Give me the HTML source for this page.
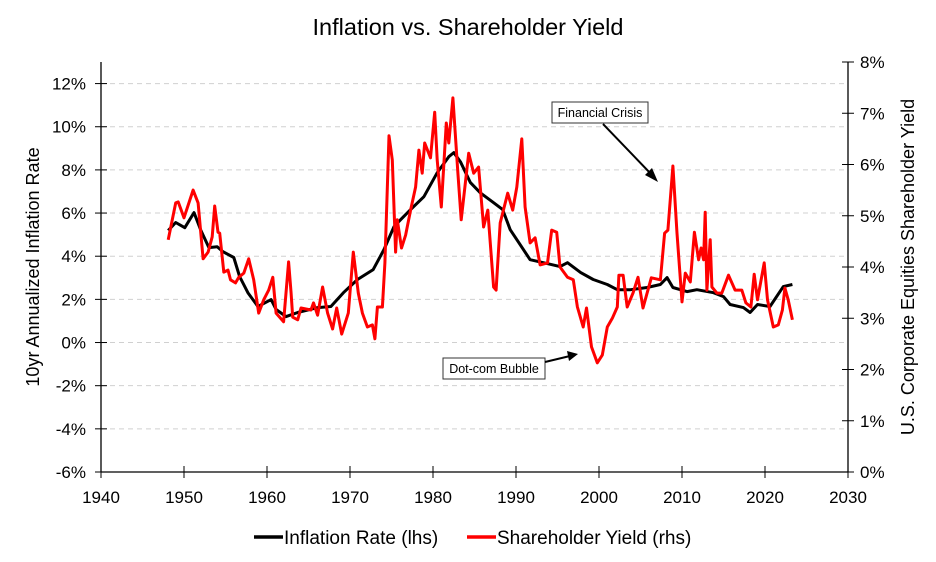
<!DOCTYPE html>
<html><head><meta charset="utf-8"><style>
body{margin:0;background:#fff;}
svg{display:block;font-family:"Liberation Sans Narrow","Liberation Sans",sans-serif;}
</style></head><body>
<svg id="chart" width="936" height="562" viewBox="0 0 936 562">
<text x="468" y="35" text-anchor="middle" font-size="23.5" font-family="Liberation Sans, sans-serif">Inflation vs. Shareholder Yield</text>
<g id="grid"></g>
<g id="axes"></g>
<g id="series"></g>
<text transform="translate(39,267) rotate(-90)" text-anchor="middle" font-size="18">10yr Annualized Inflation Rate</text>
<text transform="translate(914,267) rotate(-90)" text-anchor="middle" font-size="18">U.S. Corporate Equities Shareholder Yield</text>
<g>
<rect x="552" y="102" width="96" height="21" fill="#fff" stroke="#333" stroke-width="1"/>
<text x="600" y="117" text-anchor="middle" font-size="12.5" font-family="Liberation Sans, sans-serif">Financial Crisis</text>
<line x1="603" y1="124" x2="652" y2="175" stroke="#000" stroke-width="2"/>
<polygon points="658,182 645,175 652,168" fill="#000"/>
</g>
<g>
<rect x="443" y="358" width="102" height="21" fill="#fff" stroke="#333" stroke-width="1"/>
<text x="494" y="373" text-anchor="middle" font-size="12.5" font-family="Liberation Sans, sans-serif">Dot-com Bubble</text>
<line x1="545" y1="362" x2="570" y2="356" stroke="#000" stroke-width="2"/>
<polygon points="578,354 567,351 569,361" fill="#000"/>
</g>
<g>
<line x1="254" y1="537" x2="283" y2="537" stroke="#000" stroke-width="3.5"/>
<text x="284" y="544" font-size="19">Inflation Rate (lhs)</text>
<line x1="467" y1="537" x2="496" y2="537" stroke="#f00" stroke-width="3.5"/>
<text x="497" y="544" font-size="19">Shareholder Yield (rhs)</text>
</g>
</svg>
<script>
const xTicks=[1940,1950,1960,1970,1980,1990,2000,2010,2020,2030];
const leftTicks=[-6,-4,-2,0,2,4,6,8,10,12];
const rightTicks=[0,1,2,3,4,5,6,7,8];
const inflYears=[1948.1,1949.0,1950.1,1951.2,1952.0,1953.0,1954.0,1954.7,1956.0,1956.7,1957.7,1958.9,1960.5,1961.1,1962.3,1963.7,1966.1,1967.7,1969.2,1970.9,1972.8,1974.1,1975.3,1976.1,1977.3,1978.9,1980.5,1981.9,1982.5,1983.3,1984.5,1985.7,1987.3,1988.4,1989.3,1990.5,1991.7,1993.3,1995.3,1996.2,1997.8,1999.3,2001.0,2002.2,2003.8,2005.8,2007.4,2008.2,2008.9,2010.6,2011.8,2013.8,2015.0,2015.8,2017.4,2018.2,2019.1,2020.6,2022.2,2023.3];
const inflValues=[5.19,5.56,5.32,6.02,5.23,4.40,4.44,4.21,3.94,3.06,2.31,1.67,1.99,1.53,1.20,1.39,1.62,1.67,2.31,2.92,3.38,4.31,5.37,5.69,6.16,6.76,7.87,8.61,8.80,8.38,7.41,6.94,6.48,6.16,5.23,4.54,3.84,3.70,3.52,3.70,3.24,2.92,2.69,2.45,2.45,2.55,2.69,3.01,2.55,2.36,2.45,2.31,2.13,1.76,1.62,1.39,1.76,1.67,2.59,2.69];
const yieldYears=[1948.1,1949.0,1949.3,1950.0,1951.1,1951.7,1952.3,1952.9,1953.4,1953.7,1954.1,1954.3,1954.8,1955.3,1955.6,1956.2,1956.6,1957.2,1957.8,1958.4,1959.0,1959.6,1960.2,1960.7,1961.1,1962.0,1962.6,1962.9,1963.1,1963.7,1964.1,1965.3,1965.6,1966.1,1966.7,1967.3,1967.9,1968.4,1969.0,1969.8,1970.4,1971.0,1971.5,1972.1,1972.7,1973.0,1973.3,1973.9,1974.2,1974.7,1975.1,1975.5,1975.7,1976.2,1976.7,1977.3,1977.9,1978.3,1978.7,1979.0,1979.7,1980.2,1980.5,1981.0,1981.6,1981.9,1982.4,1983.0,1983.4,1984.3,1984.9,1985.5,1986.1,1986.6,1987.3,1987.6,1988.1,1989.0,1989.6,1990.1,1990.7,1991.1,1991.7,1992.3,1992.9,1993.8,1994.3,1994.9,1995.3,1996.2,1996.9,1997.4,1998.1,1998.5,1999.1,1999.8,2000.4,2001.0,2001.6,2002.2,2002.4,2002.9,2003.4,2004.1,2004.7,2005.3,2006.3,2007.4,2007.9,2008.3,2008.9,2009.4,2010.0,2010.4,2011.0,2011.5,2012.0,2012.3,2012.6,2012.8,2013.0,2013.4,2013.6,2014.2,2014.8,2015.6,2016.4,2017.2,2017.7,2018.3,2018.7,2019.1,2019.9,2020.3,2021.0,2021.6,2022.1,2022.4,2022.8,2023.3];
const yieldValues=[4.53,5.25,5.27,4.96,5.50,5.25,4.16,4.29,4.59,5.19,4.68,4.66,3.90,3.94,3.75,3.69,3.80,3.88,4.16,3.75,3.10,3.36,3.55,3.80,3.10,2.93,4.10,3.49,3.02,2.97,3.20,3.16,3.30,3.06,3.61,3.10,2.79,3.20,2.69,3.10,4.29,3.49,3.10,2.83,2.87,2.60,3.22,3.22,4.08,6.56,6.09,4.29,4.92,4.37,4.62,5.11,5.56,6.28,5.83,6.42,6.13,7.02,6.09,5.17,6.81,6.42,7.30,5.83,4.92,6.22,5.83,5.95,4.78,5.11,3.61,3.55,4.86,5.44,5.11,5.56,6.50,5.17,4.47,4.57,4.04,4.08,4.72,4.68,4.00,3.80,3.75,3.22,2.83,3.20,2.44,2.13,2.28,2.83,3.00,3.22,3.84,3.84,3.22,3.49,3.80,3.20,3.79,3.75,4.66,4.72,5.97,4.66,3.32,3.88,3.71,4.68,4.14,4.37,4.14,5.07,3.55,4.53,3.61,3.49,3.49,3.84,3.55,3.55,3.30,3.22,3.86,3.36,4.08,3.36,2.83,2.87,3.16,3.59,3.36,2.97];

const NS='http://www.w3.org/2000/svg';
const X0=101,X1=848,YT=62,YB=472;
const xs=y=>X0+(y-1940)/90*(X1-X0);
const yl=v=>YB-(v+6)/19*(YB-YT);
const yr=v=>YB-v/8*(YB-YT);
function mk(tag,attrs,parent){const e=document.createElementNS(NS,tag);for(const k in attrs)e.setAttribute(k,attrs[k]);parent.appendChild(e);return e;}
const grid=document.getElementById('grid'),axes=document.getElementById('axes'),series=document.getElementById('series');
leftTicks.forEach(t=>{
  const y=yl(t);
  if(t>-6){const g=mk('line',{x1:X0,x2:X1,y1:y,y2:y,stroke:'#d0d0d0','stroke-width':1,'stroke-dasharray':'5,4'},grid);
  
  }
  mk('line',{x1:X0-6,x2:X0+6,y1:y,y2:y,stroke:'#000','stroke-width':1},axes);
  const tx=mk('text',{x:X0-15,y:y+6,'text-anchor':'end','font-size':17},axes);
  tx.textContent=t+'%';
  
  
});
rightTicks.forEach(t=>{
  const y=yr(t);
  mk('line',{x1:X1-6,x2:X1+6,y1:y,y2:y,stroke:'#000','stroke-width':1},axes);
  const tx=mk('text',{x:X1+12,y:y+6,'font-size':17},axes);
  tx.textContent=t+'%';
  
  
});
xTicks.forEach(t=>{
  const x=xs(t);
  mk('line',{x1:x,x2:x,y1:YB-6,y2:YB+6,stroke:'#000','stroke-width':1},axes);
  const tx=mk('text',{x:x,y:YB+31,'text-anchor':'middle','font-size':17},axes);
  tx.textContent=t;
  
  
});
mk('line',{x1:X0,x2:X0,y1:YT,y2:YB,stroke:'#000','stroke-width':1.3},axes);
mk('line',{x1:X1,x2:X1,y1:YT,y2:YB,stroke:'#000','stroke-width':1.3},axes);
mk('line',{x1:X0,x2:X1,y1:YB,y2:YB,stroke:'#000','stroke-width':1.3},axes);
const inflPts=inflYears.map((yy,i)=>xs(yy).toFixed(1)+','+yl(inflValues[i]).toFixed(1)).join(' ');
const yPts=yieldYears.map((yy,i)=>xs(yy).toFixed(1)+','+yr(yieldValues[i]).toFixed(1)).join(' ');
const il=mk('polyline',{points:inflPts,fill:'none',stroke:'#000','stroke-width':3,'stroke-linejoin':'round'},series);


const yl2=mk('polyline',{points:yPts,fill:'none',stroke:'#f00','stroke-width':3,'stroke-linejoin':'round'},series);


</script>
</body></html>
